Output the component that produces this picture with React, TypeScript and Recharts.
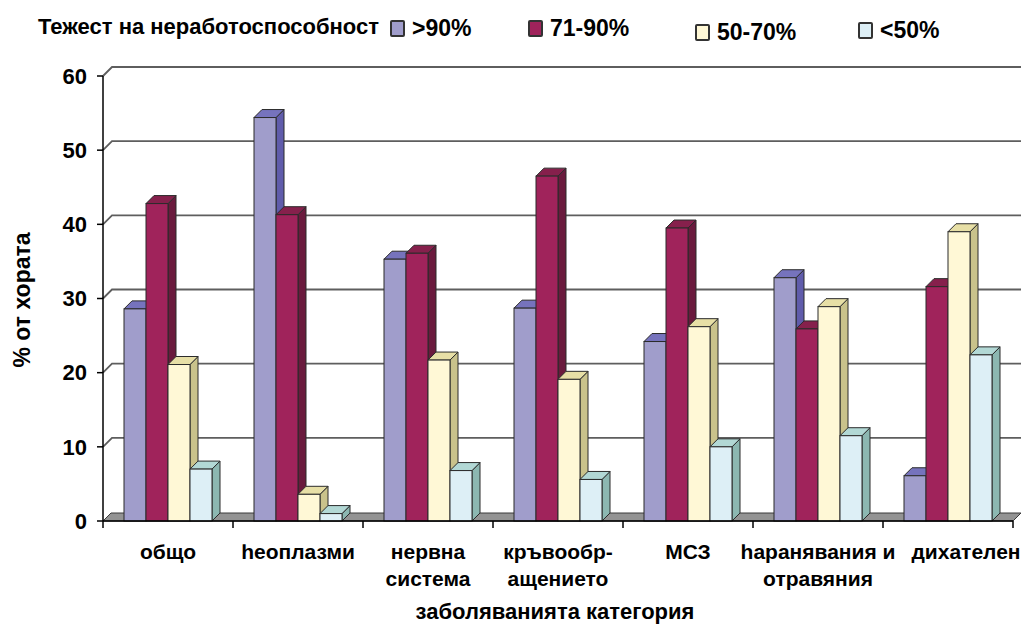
import { Bar, BarChart, CartesianGrid, XAxis, YAxis } from "recharts";

const categories = [
  "общо",
  "һеоплазми",
  "нервна\nсистема",
  "кръвообр-\nащението",
  "МСЗ",
  "һаранявания и\nотравяния",
  "дихателен",
];
const over90 = [28.6, 54.4, 35.3, 28.7, 24.2, 32.8, 6.1];
const from71to90 = [42.8, 41.3, 36.1, 46.5, 39.5, 25.9, 31.6];
const from50to70 = [21.1, 3.6, 21.7, 19.1, 26.2, 28.9, 39.0];
const under50 = [7.0, 1.0, 6.8, 5.6, 10.0, 11.5, 22.4];
const yTicks = [0, 10, 20, 30, 40, 50, 60];

const seriesNames = [">90%", "71-90%", "50-70%", "<50%"];
const seriesKeys = ["over90", "from71to90", "from50to70", "under50"];

const data = categories.map((name, i) => ({
  name,
  over90: over90[i],
  from71to90: from71to90[i],
  from50to70: from50to70[i],
  under50: under50[i],
}));

const W = 1035;
const H = 630;
const LEFT = 103;
const RIGHT = 1013;
const TOP = 76;
const BASE_Y = 521;
const BAND = (RIGHT - LEFT) / categories.length;
const FONT = '"Liberation Sans", Arial, sans-serif';

// depth of the bars and of the back wall
const DX = 8;
const DY = 8;

const palette = [
  { front: "#a09dcb", side: "#605cab", top: "#7673bd" },
  { front: "#a0235b", side: "#6a1a3d", top: "#86204c" },
  { front: "#fff8d6", side: "#c9c28b", top: "#e7dfa6" },
  { front: "#ddeff6", side: "#8cb7b1", top: "#b2d8d5" },
];

function Box3D(props: any) {
  const { x, y, width, height, colors } = props;
  if (x == null || y == null) return null;
  const w = width;
  const h = Math.max(height, 0);
  const stroke = "#2b2b2b";
  return (
    <g>
      <polygon
        points={`${x + w},${y + h} ${x + w + DX},${y + h - DY} ${x + w + DX},${y - DY} ${x + w},${y}`}
        fill={colors.side}
        stroke={stroke}
        strokeWidth={1}
        strokeLinejoin="round"
      />
      <polygon
        points={`${x},${y} ${x + DX},${y - DY} ${x + w + DX},${y - DY} ${x + w},${y}`}
        fill={colors.top}
        stroke={stroke}
        strokeWidth={1}
        strokeLinejoin="round"
      />
      <rect x={x} y={y} width={w} height={h} fill={colors.front} stroke={stroke} strokeWidth={1} />
    </g>
  );
}

function GridLine(props: any) {
  const { x1, y1, x2 } = props;
  if (Math.abs(y1 - BASE_Y) < 0.5) {
    return (
      <polygon
        key={props.key}
        points={`${x1},${y1} ${x1 + DX},${y1 - DY} ${x2 + DX},${y1 - DY} ${x2},${y1}`}
        fill="#939393"
        stroke="#3a3a3a"
        strokeWidth={1}
      />
    );
  }
  return (
    <path
      key={props.key}
      d={`M${x1},${y1} L${x1 + DX + 1},${y1 - DY - 1} L${x2 + DX},${y1 - DY - 1}`}
      fill="none"
      stroke="#5e5e5e"
      strokeWidth={1.8}
    />
  );
}

function CategoryTick(props: any) {
  const { x, payload, index } = props;
  const lines = String(payload.value).split("\n");
  const last = index === categories.length - 1;
  const shift = last ? 18 : 0;
  return (
    <g>
      <line x1={x - BAND / 2} y1={BASE_Y} x2={x - BAND / 2} y2={BASE_Y + 7} stroke="#000" strokeWidth={1.5} />
      {last ? (
        <line x1={x + BAND / 2} y1={BASE_Y} x2={x + BAND / 2} y2={BASE_Y + 7} stroke="#000" strokeWidth={1.5} />
      ) : null}
      {lines.map((t, i) => (
        <text
          key={i}
          x={x + shift}
          y={BASE_Y + 38 + i * 27}
          textAnchor="middle"
          fontFamily={FONT}
          fontWeight="bold"
          fontSize={21}
          fill="#000"
        >
          {t}
        </text>
      ))}
    </g>
  );
}

const legendLeft = [390, 528, 695, 858];
const legendTop = [15, 15, 19, 17];

export default function App() {
  return (
    <div style={{ position: "absolute", left: 0, top: 0, width: W, height: H, background: "#fff", fontFamily: FONT }}>
      <BarChart
        width={W}
        height={H}
        data={data}
        margin={{ top: TOP, right: W - RIGHT, bottom: 0, left: 0 }}
        barGap={0}
        barCategoryGap={21}
      >
        <CartesianGrid vertical={false} horizontal={GridLine} />
        <XAxis
          dataKey="name"
          height={H - BASE_Y}
          interval={0}
          tickLine={false}
          axisLine={{ stroke: "#000", strokeWidth: 1.5 }}
          tick={<CategoryTick />}
        />
        <YAxis
          width={LEFT}
          domain={[0, 60]}
          ticks={yTicks}
          interval={0}
          tickSize={6}
          tickMargin={10}
          axisLine={{ stroke: "#000", strokeWidth: 1.5 }}
          tickLine={{ stroke: "#000", strokeWidth: 1.5 }}
          tick={{ fill: "#000", fontSize: 22, fontWeight: "bold", fontFamily: FONT }}
        />
        {seriesKeys.map((k, i) => (
          <Bar
            key={k}
            dataKey={k}
            name={seriesNames[i]}
            isAnimationActive={false}
            shape={(p: any) => <Box3D {...p} colors={palette[i]} />}
          />
        ))}
      </BarChart>

      <div
        style={{
          position: "absolute",
          left: 38,
          top: 14,
          fontSize: 22,
          fontWeight: "bold",
          lineHeight: "26px",
          whiteSpace: "nowrap",
        }}
      >
        Тежест на неработоспособност
      </div>
      {seriesNames.map((n, i) => (
        <div
          key={n}
          style={{
            position: "absolute",
            left: legendLeft[i],
            top: legendTop[i],
            display: "flex",
            alignItems: "center",
            whiteSpace: "nowrap",
          }}
        >
          <span
            style={{
              display: "inline-block",
              width: 11,
              height: 13,
              background: palette[i].front,
              border: "2px solid #333",
              borderRadius: 2,
              marginRight: 7,
            }}
          />
          <span style={{ fontSize: 23, fontWeight: "bold", lineHeight: "27px" }}>{n}</span>
        </div>
      ))}

      <div
        style={{
          position: "absolute",
          left: 22,
          top: 300,
          transform: "translate(-50%, -50%) rotate(-90deg)",
          fontSize: 23,
          fontWeight: "bold",
          whiteSpace: "nowrap",
        }}
      >
        % от хората
      </div>
      <div
        style={{
          position: "absolute",
          left: 555,
          top: 612,
          transform: "translate(-50%, -50%)",
          fontSize: 22,
          fontWeight: "bold",
          whiteSpace: "nowrap",
        }}
      >
        заболяванията категория
      </div>
    </div>
  );
}
